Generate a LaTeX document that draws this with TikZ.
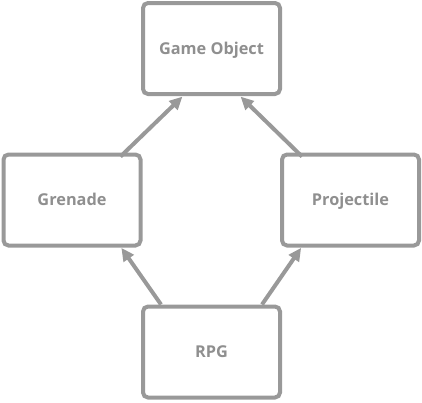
\documentclass[tikz,border=0pt]{standalone}
\usepackage{fontspec}
\setmainfont{Open Sans}
\usetikzlibrary{arrows.meta}
\definecolor{linegray}{HTML}{999999}
\definecolor{textgray}{HTML}{8F8F8F}
\begin{document}
\begin{tikzpicture}[x=1pt,y=-1pt,
  box/.style={draw=linegray, line width=4pt, rounded corners=5pt, minimum width=137pt, minimum height=91pt, inner sep=0pt, outer sep=0pt, text=textgray, text height=11.5pt, text depth=0pt, font=\bfseries\fontsize{16.3}{18}\selectfont},
  arr/.style={draw=linegray, line width=4pt, -{Triangle[length=13pt,width=12pt]}, shorten >=-2pt}]
\useasboundingbox (0,0) rectangle (422,402);
\node[box] (go) at (211.5,48.5) {Game Object};
\node[box] (gr) at (72,200) {Grenade};
\node[box] (pr) at (350.5,200) {Projectile};
\node[box] (rpg) at (211.5,352) {RPG};
\draw[arr] ([xshift=-20pt,yshift=-2pt]gr.north east) -- ([xshift=38pt,yshift=-4pt]go.south west);
\draw[arr] ([xshift=20pt,yshift=-2pt]pr.north west) -- ([xshift=-38pt,yshift=-4pt]go.south east);
\draw[arr] ([xshift=18pt,yshift=2pt]rpg.north west) -- ([xshift=-18pt,yshift=-4pt]gr.south east);
\draw[arr] ([xshift=-18pt,yshift=2pt]rpg.north east) -- ([xshift=18pt,yshift=-4pt]pr.south west);
\end{tikzpicture}
\end{document}
